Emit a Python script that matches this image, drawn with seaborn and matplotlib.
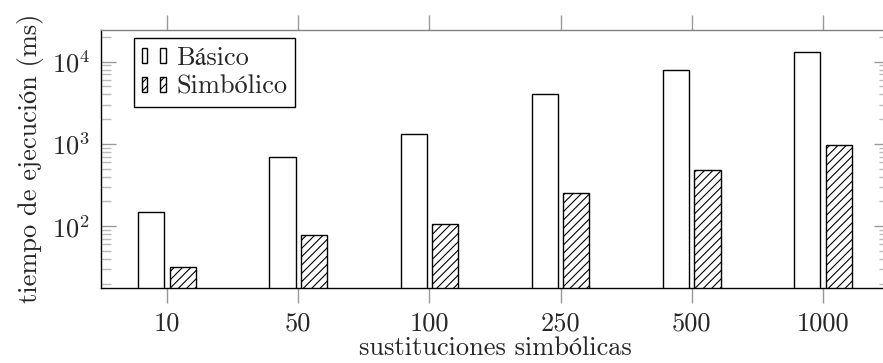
import matplotlib
import matplotlib.pyplot as plt
import pandas as pd
import seaborn as sns
from matplotlib.legend_handler import HandlerTuple
from matplotlib.patches import Patch
from matplotlib.ticker import NullFormatter

matplotlib.use('Agg')

categories = ['10', '50', '100', '250', '500', '1000']
series = ['Básico', 'Simbólico']
basico = [147, 700, 1320, 4100, 7900, 13100]
simbolico = [32, 79, 105, 250, 475, 960]

sns.set_style('white')
plt.rcParams['font.family'] = ['cmr10', 'STIXGeneral', 'DejaVu Serif']
plt.rcParams['mathtext.fontset'] = 'cm'
plt.rcParams['axes.formatter.use_mathtext'] = True
plt.rcParams['axes.unicode_minus'] = False
plt.rcParams['hatch.linewidth'] = 0.8

df = pd.DataFrame({
    'sust': categories * 2,
    'tiempo': basico + simbolico,
    'serie': [series[0]] * len(basico) + [series[1]] * len(simbolico),
})

fig = plt.figure(figsize=(8.83, 3.63), dpi=100)
ax = fig.add_axes([101.4 / 883, 1 - 288 / 363, (888.6 - 101.4) / 883, (288 - 29.5) / 363])
ax.set_yscale('log')
sns.barplot(data=df, x='sust', y='tiempo', hue='serie', order=categories, hue_order=series,
            palette=['white', 'white'], saturation=1, edgecolor='black', linewidth=1,
            width=0.48, gap=0.17, errorbar=None, legend=False, ax=ax)
for bar in ax.containers[1]:
    bar.set_hatch('////')

ax.set_xlim(-0.5, 5.5)
ax.set_ylim(17.7, 24600)

for side in ['left', 'bottom']:
    ax.spines[side].set_color('black')
    ax.spines[side].set_linewidth(1)
ax.spines['top'].set_color('#808080')
ax.spines['top'].set_linewidth(1)

ax.tick_params(axis='x', which='both', direction='out', length=11, width=1, color='#999999',
               top=True, bottom=True, labelsize=19, pad=6)
ax.tick_params(axis='y', which='major', direction='in', length=11, width=1, color='#999999',
               left=True, right=True, labelsize=19, pad=8)
ax.tick_params(axis='y', which='minor', direction='in', length=7, width=1, color='#bbbbbb',
               left=True, right=True)
ax.yaxis.set_minor_formatter(NullFormatter())

ax.set_xlabel('sustituciones simbólicas', fontsize=19, labelpad=1)
ax.set_ylabel('tiempo de ejecución (ms)', fontsize=19, labelpad=6)

h1 = (Patch(facecolor='white', edgecolor='black', lw=1), Patch(facecolor='white', edgecolor='black', lw=1))
h2 = (Patch(facecolor='white', edgecolor='black', lw=1, hatch='////'),
      Patch(facecolor='white', edgecolor='black', lw=1, hatch='////'))
leg = ax.legend([h1, h2], series, handler_map={tuple: HandlerTuple(ndivide=None, pad=0.5)},
                loc='upper left', bbox_to_anchor=(0.0414, 0.967), borderaxespad=0,
                fancybox=False, edgecolor='black', framealpha=1, fontsize=19,
                handlelength=0.9, handleheight=0.5, handletextpad=0.4,
                labelspacing=0.2, borderpad=0.3)
leg.get_frame().set_linewidth(1)

fig.savefig('out.png', dpi=100)
